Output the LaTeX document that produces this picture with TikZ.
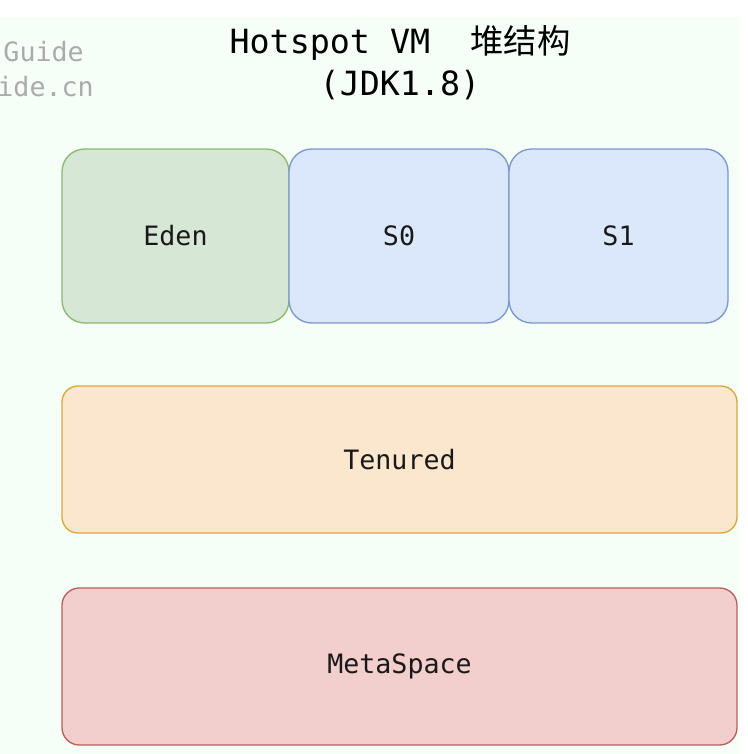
\documentclass[tikz,border=0pt]{standalone}
\usepackage{fontspec}
\setmonofont{DejaVu Sans Mono}
\newfontfamily\cjk{Noto Sans CJK SC}
\definecolor{bgmint}{RGB}{246,254,248}
\definecolor{edenfill}{RGB}{214,231,213}
\definecolor{edenline}{RGB}{140,184,112}
\definecolor{survfill}{RGB}{219,232,251}
\definecolor{survline}{RGB}{122,152,204}
\definecolor{oldfill}{RGB}{251,230,206}
\definecolor{oldline}{RGB}{219,168,62}
\definecolor{metafill}{RGB}{242,206,204}
\definecolor{metaline}{RGB}{184,96,92}
\tikzset{
  region/.style={draw, line width=1pt, rounded corners=17pt, inner sep=0pt,
    font=\ttfamily\fontsize{20}{24}\selectfont, text=black!90},
}
\begin{document}
\begin{tikzpicture}[x=0.75pt, y=-0.75pt]
            \pgfmathsetmacro{\s}{0.75};
            \useasboundingbox (0, 0) rectangle (748, 754);
            \fill [white] (0, 0) rectangle (748, 754);
            \fill [bgmint] (0, 17) rectangle (739, 754);
            % title and cut-off watermark
            \node (title) [align=center, font=\ttfamily\fontsize{25}{31.5}\selectfont] at (400, 63) {Hotspot VM\ \ {\cjk 堆结构}\\(JDK1.8)};
            \node (markA) [anchor=east, inner sep=0pt, text=black!33, font=\ttfamily\fontsize{20}{24}\selectfont] at (84, 52) {Guide};
            \node (markB) [anchor=east, inner sep=0pt, text=black!33, font=\ttfamily\fontsize{20}{24}\selectfont] at (94, 87) {ide.cn};
            % young generation
            \node (eden) [region, fill=edenfill, draw=edenline, minimum width=227*\s pt, minimum height=174*\s pt] at (175.5, 236) {Eden};
            \node (szero) [region, fill=survfill, draw=survline, minimum width=220*\s pt, minimum height=174*\s pt] at (399, 236) {S0};
            \node (sone) [region, fill=survfill, draw=survline, minimum width=219*\s pt, minimum height=174*\s pt] at (618.5, 236) {S1};
            % old generation and metaspace
            \node (tenured) [region, rounded corners=12pt, fill=oldfill, draw=oldline, minimum width=675*\s pt, minimum height=147*\s pt] at (399.5, 459.5) {Tenured};
            \node (meta) [region, rounded corners=13pt, fill=metafill, draw=metaline, minimum width=675*\s pt, minimum height=157*\s pt] at (399.5, 666.5) {MetaSpace};
        \end{tikzpicture}
\end{document}
